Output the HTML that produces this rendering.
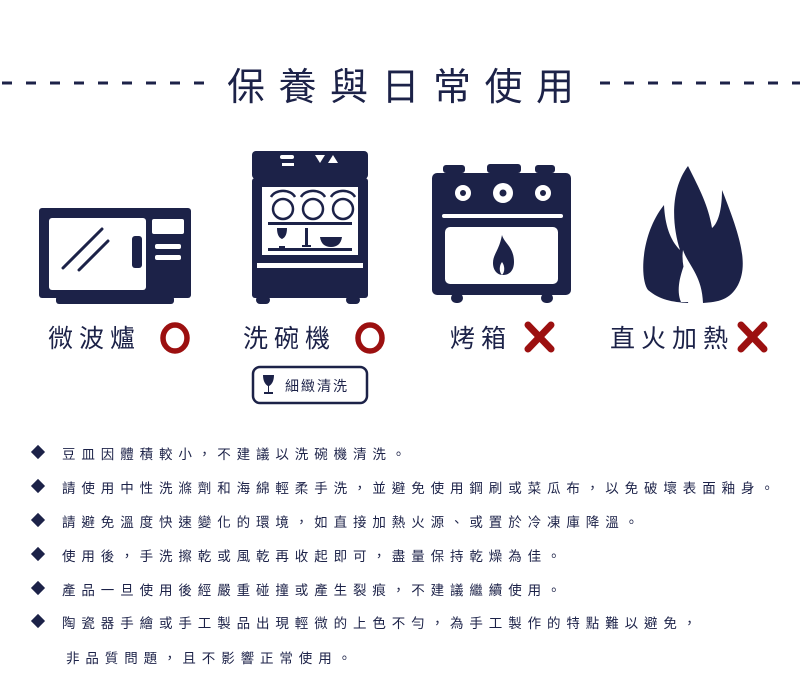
<!DOCTYPE html>
<html><head><meta charset="utf-8"><style>
body{margin:0;width:800px;height:700px;background:#fff;position:relative;overflow:hidden;font-family:"Liberation Sans","Noto Sans CJK TC",sans-serif;color:#1c2248}
.t{position:absolute;white-space:nowrap}
.title{left:227px;top:56px;font-size:38px;letter-spacing:13.5px;font-weight:400}
.lab{font-size:25px;letter-spacing:6px;top:319px}
.li{left:62px;font-size:13.5px;letter-spacing:5.9px}
.d{position:absolute;left:33px;width:10px;height:10px;background:#1c2248;transform:rotate(45deg)}
</style></head><body>
<svg width="800" height="700" style="position:absolute;left:0;top:0">
<g stroke="#1c2248" stroke-width="3">
<line x1="2" y1="83" x2="210" y2="83" stroke-dasharray="10 14"/>
<line x1="600" y1="83" x2="800" y2="83" stroke-dasharray="10 14"/>
</g>
<g fill="#1c2248">
<rect x="39" y="208" width="152" height="90" rx="3"/>
<rect x="56" y="296" width="118" height="8" rx="3"/>
<rect x="252" y="151" width="116" height="28" rx="4"/>
<rect x="252" y="178" width="116" height="120" rx="3"/>
<rect x="256" y="296" width="14" height="8" rx="4"/><rect x="346" y="296" width="14" height="8" rx="4"/>
<rect x="443" y="165" width="22" height="8" rx="3"/><rect x="487" y="164" width="34" height="9" rx="3"/><rect x="535" y="165" width="20" height="8" rx="3"/>
<rect x="432" y="173" width="139" height="122" rx="5"/>
<rect x="451" y="293" width="12" height="10" rx="5"/><rect x="541" y="293" width="12" height="10" rx="5"/>
<path d="M688 166 C670 190 672 225 680 250 C670 240 665 225 664 205 C640 235 640 280 648 290 C660 300 672 302 688 303 C692 285 680 270 683 250 C688 265 702 275 703 303 C718 302 730 300 738 285 C748 265 742 240 722 190 C722 215 716 225 712 228 C708 205 700 190 688 166Z"/>
</g>
<g fill="#fff">
<rect x="49" y="218" width="97" height="72" rx="3"/>
<rect x="152" y="219" width="32" height="15" rx="2"/>
<rect x="155" y="244" width="26" height="5" rx="2"/><rect x="155" y="255" width="26" height="5" rx="2"/>
<rect x="280" y="155" width="14" height="4" rx="2"/><rect x="282" y="163" width="12" height="3"/>
<polygon points="315,155 325,155 320,163"/><polygon points="328,163 338,163 333,155"/>
<rect x="262" y="187" width="96" height="68"/>
<rect x="257" y="263" width="106" height="5"/>
<rect x="442" y="214" width="121" height="4" rx="2"/>
<rect x="445" y="227" width="113" height="57" rx="5"/>
<circle cx="463" cy="193" r="8"/><circle cx="503" cy="193" r="10"/><circle cx="543" cy="193" r="8"/>
</g>
<g stroke="#1c2248" stroke-width="3" stroke-linecap="round">
<line x1="63" y1="268" x2="102" y2="229"/><line x1="79" y1="270" x2="108" y2="241"/>
</g>
<rect x="132" y="236" width="10" height="32" rx="3" fill="#1c2248"/>
<g fill="none" stroke="#1c2248" stroke-width="2.5">
<circle cx="283" cy="209" r="10"/><circle cx="313" cy="209" r="10"/><circle cx="343" cy="209" r="10"/>
<path d="M271 197 a13 10 0 0 1 24 0M301 197 a13 10 0 0 1 24 0M331 197 a13 10 0 0 1 24 0"/>
</g>
<g fill="#1c2248">
<rect x="268" y="222" width="84" height="3"/><rect x="268" y="248" width="84" height="3"/>
<path d="M277 228 h10 c0 8 -3 10 -5 11 v7 h3 v2 h-6 v-2 h3 v-7 c-2 -1 -5 -3 -5 -11z"/>
<rect x="305" y="228" width="3" height="18"/><rect x="302" y="245" width="9" height="2"/>
<path d="M320 237 h22 c-1 7 -5 10 -11 10 c-6 0 -10 -3 -11 -10z"/>
<circle cx="463" cy="193" r="3"/><circle cx="503" cy="193" r="3.5"/><circle cx="543" cy="193" r="3"/>
<path d="M502 235 c2 8 12 12 12 27 c0 9 -5 13 -11 13 c-6 0 -10 -5 -10 -12 c0 -9 6 -12 9 -28z"/>
</g>
<path d="M502 262 c-3 4 -3 10 0 13 c3 -3 3 -9 0 -13z" fill="#fff"/>
<path d="M686 260 c-6 15 -10 30 -5 42 l10 0 c3 -15 -2 -30 -5 -42z" fill="#fff"/>
<g fill="none" stroke="#9c1010" stroke-width="5.5">
<ellipse cx="175" cy="338" rx="12" ry="13"/><ellipse cx="370" cy="338" rx="12" ry="13"/>
</g>
<g stroke="#9c1010" stroke-width="7" stroke-linecap="round">
<line x1="528" y1="325" x2="551" y2="349"/><line x1="551" y1="325" x2="528" y2="349"/>
<line x1="741" y1="325" x2="764" y2="349"/><line x1="764" y1="325" x2="741" y2="349"/>
</g>
<rect x="253" y="367" width="114" height="36" rx="7" fill="none" stroke="#1c2248" stroke-width="2.5"/>
<path d="M263 375 h11 c0 7 -3 10 -5 11 v6 h4 v2 h-9 v-2 h4 v-6 c-2 -1 -5 -4 -5 -11z" fill="#1c2248"/>
</svg>
<div class="t title">保養與日常使用</div>
<div class="t lab" style="left:48px">微波爐</div>
<div class="t lab" style="left:243px">洗碗機</div>
<div class="t lab" style="left:450px">烤箱</div>
<div class="t lab" style="left:610px">直火加熱</div>
<div class="t" style="left:285px;top:376px;font-size:14px;letter-spacing:2px">細緻清洗</div>
<div class="d" style="top:447px"></div><div class="t li" style="top:443px">豆皿因體積較小，不建議以洗碗機清洗。</div>
<div class="d" style="top:481px"></div><div class="t li" style="top:477px">請使用中性洗滌劑和海綿輕柔手洗，並避免使用鋼刷或菜瓜布，以免破壞表面釉身。</div>
<div class="d" style="top:515px"></div><div class="t li" style="top:511px">請避免溫度快速變化的環境，如直接加熱火源、或置於冷凍庫降溫。</div>
<div class="d" style="top:549px"></div><div class="t li" style="top:545px">使用後，手洗擦乾或風乾再收起即可，盡量保持乾燥為佳。</div>
<div class="d" style="top:583px"></div><div class="t li" style="top:579px">產品一旦使用後經嚴重碰撞或產生裂痕，不建議繼續使用。</div>
<div class="d" style="top:616px"></div><div class="t li" style="top:612px">陶瓷器手繪或手工製品出現輕微的上色不勻，為手工製作的特點難以避免，</div>
<div class="t li" style="top:647px;left:66px">非品質問題，且不影響正常使用。</div>
</body></html>
